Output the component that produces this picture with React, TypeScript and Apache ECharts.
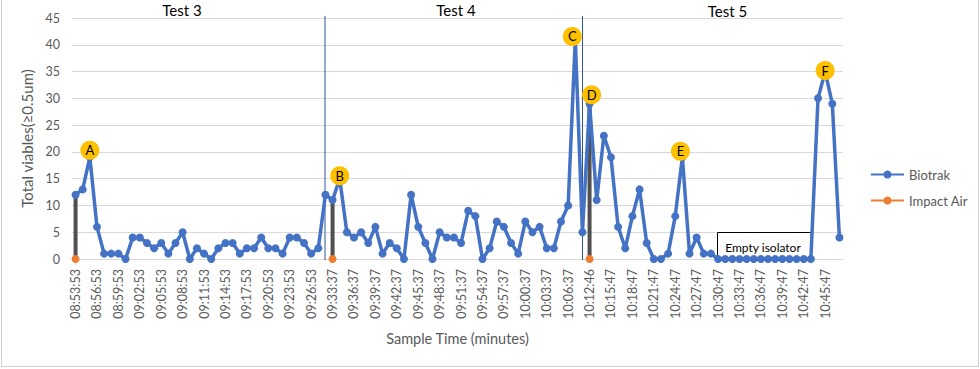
import React, { useEffect, useRef } from "react";
import * as echarts from "echarts";

const test3Times = [
  "08:53:53","08:54:53","08:55:53","08:56:53","08:57:53","08:58:53","08:59:53","09:00:53","09:01:53","09:02:53",
  "09:03:53","09:04:53","09:05:53","09:06:53","09:07:53","09:08:53","09:09:53","09:10:53","09:11:53","09:12:53",
  "09:13:53","09:14:53","09:15:53","09:16:53","09:17:53","09:18:53","09:19:53","09:20:53","09:21:53","09:22:53",
  "09:23:53","09:24:53","09:25:53","09:26:53","09:27:53",
];
const test4Times = [
  "09:32:37","09:33:37","09:34:37","09:35:37","09:36:37","09:37:37","09:38:37","09:39:37","09:40:37","09:41:37",
  "09:42:37","09:43:37","09:44:37","09:45:37","09:46:37","09:47:37","09:48:37","09:49:37","09:50:37","09:51:37",
  "09:52:37","09:53:37","09:54:37","09:55:37","09:56:37","09:57:37","09:58:37","09:59:37","10:00:37","10:01:37",
  "10:02:37","10:03:37","10:04:37","10:05:37","10:06:37","10:07:37",
];
const test5Times = [
  "10:11:46","10:12:46","10:13:47","10:14:47","10:15:47","10:16:47","10:17:47","10:18:47","10:19:47","10:20:47",
  "10:21:47","10:22:47","10:23:47","10:24:47","10:25:47","10:26:47","10:27:47","10:28:47","10:29:47","10:30:47",
  "10:31:47","10:32:47","10:33:47","10:34:47","10:35:47","10:36:47","10:37:47","10:38:47","10:39:47","10:40:47",
  "10:41:47","10:42:47","10:43:47","10:44:47","10:45:47","10:46:47","10:47:47",
];
const categories = [...test3Times, ...test4Times, ...test5Times];

const biotrak = [
  12, 13, 19, 6, 1, 1, 1, 0, 4, 4,
  3, 2, 3, 1, 3, 5, 0, 2, 1, 0,
  2, 3, 3, 1, 2, 2, 4, 2, 2, 1,
  4, 4, 3, 1, 2,
  12, 11, 15, 5, 4,
  5, 3, 6, 1, 3, 2, 0, 12, 6, 3,
  0, 5, 4, 4, 3, 9, 8, 0, 2, 7,
  6, 3, 1, 7, 5, 6, 2, 2, 7, 10,
  41, 5, 29,
  11, 23, 19, 6, 2, 8, 13,
  3, 0, 0, 1, 8, 19, 1, 4, 1, 1,
  0, 0, 0, 0, 0, 0, 0, 0, 0, 0, 0, 0, 0, 0,
  30, 35, 29, 4,
];

// Impact Air readings (only three samples taken)
const impactAirIndex = [0, 36, 72];
const impactAirValues = [0, 0, 0];

// Marker labels: letter and data index
const markerLetters = ["A", "B", "C", "D", "E", "F"];
const markerIndex = [2, 37, 70, 72, 85, 105];
const markerOffsets = [[0, -7], [0, -3], [-3, -3], [2, -9], [-2, -6], [0, -1]];

const testLabels = ["Test 3", "Test 4", "Test 5"];

const FONT = "Lato, 'Open Sans', sans-serif";

export default function App() {
  const ref = useRef<HTMLDivElement>(null);

  useEffect(() => {
    if (!ref.current) return;
    const chart = echarts.init(ref.current, null, { renderer: "svg" });

    const impactAir: (number | null)[] = categories.map(() => null);
    impactAirIndex.forEach((idx, k) => {
      impactAir[idx] = impactAirValues[k];
    });
    const highLow: (number | null)[] = categories.map((_, i) =>
      impactAir[i] !== null ? biotrak[i] : null
    );

    chart.setOption({
      animation: false,
      backgroundColor: "#ffffff",
      textStyle: { fontFamily: FONT },
      grid: { left: 72, right: 137, top: 18, bottom: 110, containLabel: false },
      legend: {
        orient: "vertical",
        left: 865,
        top: 163,
        itemWidth: 33,
        itemHeight: 10,
        itemGap: 13,
        data: ["Biotrak", "Impact Air"],
        textStyle: { color: "#595959", fontSize: 13, fontFamily: FONT },
      },
      xAxis: {
        type: "category",
        data: categories,
        boundaryGap: true,
        name: "Sample Time (minutes)",
        nameLocation: "middle",
        nameGap: 72,
        nameTextStyle: { color: "#595959", fontSize: 14.5, fontFamily: FONT, verticalAlign: "top" },
        axisLine: { lineStyle: { color: "#D9D9D9" } },
        axisTick: { show: false },
        axisLabel: {
          interval: 2,
          rotate: 90,
          margin: 10,
          color: "#595959",
          fontSize: 12.5,
          fontFamily: FONT,
        },
      },
      yAxis: {
        type: "value",
        min: 0,
        max: 45,
        interval: 5,
        name: "Total viables(≥0.5um)",
        nameLocation: "middle",
        nameGap: 34,
        nameTextStyle: { color: "#595959", fontSize: 15, fontFamily: FONT },
        axisLine: { show: false },
        axisTick: { show: false },
        axisLabel: { color: "#595959", fontSize: 12.5, margin: 12, fontFamily: FONT },
        splitLine: { lineStyle: { color: "#D9D9D9", width: 1 } },
      },
      series: [
        {
          name: "HighLow",
          type: "bar",
          data: highLow,
          barWidth: 4,
          itemStyle: { color: "#505050" },
          z: 1,
          silent: true,
        },
        {
          name: "Biotrak",
          type: "line",
          data: biotrak,
          symbol: "circle",
          symbolSize: 8,
          showAllSymbol: true,
          lineStyle: { color: "#4472C4", width: 3.5 },
          itemStyle: { color: "#4472C4" },
          z: 3,
          markPoint: {
            symbol: "circle",
            symbolSize: 19,
            itemStyle: { color: "#FFC000" },
            label: { show: true, color: "#000", fontSize: 13, fontFamily: FONT },
            data: markerLetters.map((letter, k) => ({
              name: letter,
              coord: [categories[markerIndex[k]], biotrak[markerIndex[k]]],
              value: letter,
              symbolOffset: markerOffsets[k],
              label: { formatter: letter },
            })),
          },
        },
        {
          name: "Impact Air",
          type: "line",
          data: impactAir,
          symbol: "circle",
          symbolSize: 8,
          connectNulls: false,
          lineStyle: { color: "#ED7D31", width: 3.5 },
          itemStyle: { color: "#ED7D31" },
          z: 4,
        },
      ],
      graphic: [
        {
          type: "rect",
          shape: { x: 1.5, y: -2, width: 977, height: 368.5 },
          style: { fill: "none", stroke: "#D0D0D0", lineWidth: 1 },
          silent: true,
          z: 0,
        },
        {
          type: "line",
          shape: { x1: 325, y1: 16, x2: 325, y2: 260 },
          style: { stroke: "#2F5597", lineWidth: 1 },
          z: 2,
        },
        {
          type: "line",
          shape: { x1: 582.5, y1: 16, x2: 582.5, y2: 260 },
          style: { stroke: "#2F5597", lineWidth: 1 },
          z: 2,
        },
        {
          type: "text",
          x: 182,
          y: 10,
          style: { text: testLabels[0], fill: "#000", fontSize: 15, fontFamily: FONT, align: "center", verticalAlign: "middle" },
        },
        {
          type: "text",
          x: 456,
          y: 10,
          style: { text: testLabels[1], fill: "#000", fontSize: 15, fontFamily: FONT, align: "center", verticalAlign: "middle" },
        },
        {
          type: "text",
          x: 727.5,
          y: 11,
          style: { text: testLabels[2], fill: "#000", fontSize: 15, fontFamily: FONT, align: "center", verticalAlign: "middle" },
        },
        {
          type: "rect",
          shape: { x: 717.5, y: 232.5, width: 94, height: 28 },
          style: { fill: "#ffffff", stroke: "#000", lineWidth: 1 },
          z: 1,
        },
        {
          type: "text",
          x: 763,
          y: 247,
          style: { text: "Empty isolator", fill: "#000", fontSize: 12, fontFamily: FONT, align: "center", verticalAlign: "middle" },
          z: 1,
        },
      ],
    });

    return () => {
      chart.dispose();
    };
  }, []);

  return (
    <div
      ref={ref}
      style={{ position: "absolute", left: 0, top: 0, width: 980, height: 369, background: "#fff" }}
    />
  );
}
